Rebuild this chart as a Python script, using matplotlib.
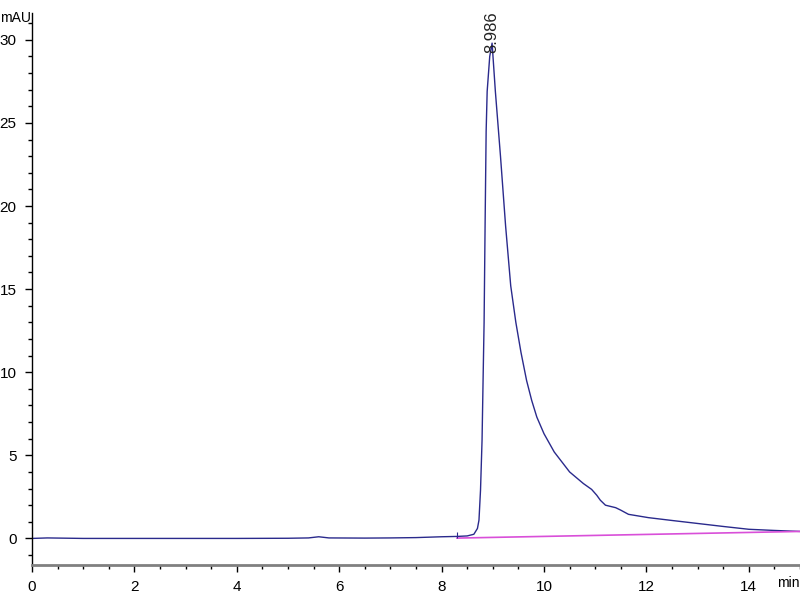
import numpy as np
import matplotlib as mpl
mpl.use('Agg')
import matplotlib.pyplot as plt
from matplotlib.ticker import MultipleLocator

plt.rcParams['font.family'] = ['Liberation Sans Narrow', 'Liberation Sans', 'DejaVu Sans']

# 色谱信号 (min, mAU)
time = [0, 0.3, 1, 2, 3, 4, 5, 5.4, 5.6, 5.8, 6.5, 7, 7.5, 8, 8.3, 8.5, 8.63,
        8.7, 8.73, 8.76, 8.79, 8.81, 8.83, 8.85, 8.87, 8.89, 8.94, 8.986, 9.05,
        9.15, 9.25, 9.35, 9.45, 9.55, 9.66, 9.76, 9.86, 10.0, 10.2, 10.5, 10.77,
        10.93, 11.03, 11.1, 11.2, 11.4, 11.5, 11.65, 12.04, 12.5, 13.0, 13.5,
        14.0, 14.5, 15.0]
signal = [0.0, 0.03, 0.0, 0.0, 0.0, 0.0, 0.01, 0.03, 0.1, 0.03, 0.02, 0.03,
          0.05, 0.1, 0.12, 0.15, 0.25, 0.6, 1.1, 2.9, 5.9, 9.5, 13.0, 19.0,
          24.5, 26.9, 29.0, 29.8, 26.9, 23.0, 18.8, 15.2, 13.0, 11.2, 9.5, 8.3,
          7.3, 6.3, 5.2, 4.0, 3.3, 2.95, 2.6, 2.3, 2.0, 1.85, 1.7, 1.45, 1.25,
          1.08, 0.9, 0.72, 0.55, 0.48, 0.42]

# 基线
base_t = [8.3, 15.0]
base_y = [0.02, 0.42]

peak_t = 8.986
peak_h = 29.8

fig = plt.figure(figsize=(8, 6), dpi=100)
ax = fig.add_axes([0.04, 0.0583, 0.96, 0.9197])

ax.plot(time, signal, color='#2a2a8c', lw=1.0)
ax.plot(base_t, base_y, color='#d94fd9', lw=1.2)
ax.vlines(base_t[0], base_y[0], base_y[0] + 0.35, color='#2a2a8c', lw=0.8)

ax.text(peak_t, peak_h - 0.6, '%.3f' % peak_t, rotation=90, ha='center', va='bottom',
        fontsize=12, color='#222222')

ax.set_xlim(0, 15)
ax.set_ylim(-1.6, 31.6)
ax.xaxis.set_major_locator(MultipleLocator(2))
ax.xaxis.set_minor_locator(MultipleLocator(0.5))
ax.yaxis.set_major_locator(MultipleLocator(5))
ax.yaxis.set_minor_locator(MultipleLocator(1))
ax.tick_params(axis='both', which='major', length=5, width=1, labelsize=11, pad=6)
ax.tick_params(axis='both', which='minor', length=3, width=1)

ax.spines['top'].set_visible(False)
ax.spines['right'].set_visible(False)
ax.spines['bottom'].set_color('#808080')
ax.spines['bottom'].set_linewidth(2)
ax.spines['left'].set_linewidth(1)

fig.text(0.0, 0.97, 'mAU', fontsize=10, ha='left', va='center')
fig.text(0.999, 0.028, 'min', fontsize=10, ha='right', va='center')

plt.savefig('out.png', dpi=100)
plt.close()
